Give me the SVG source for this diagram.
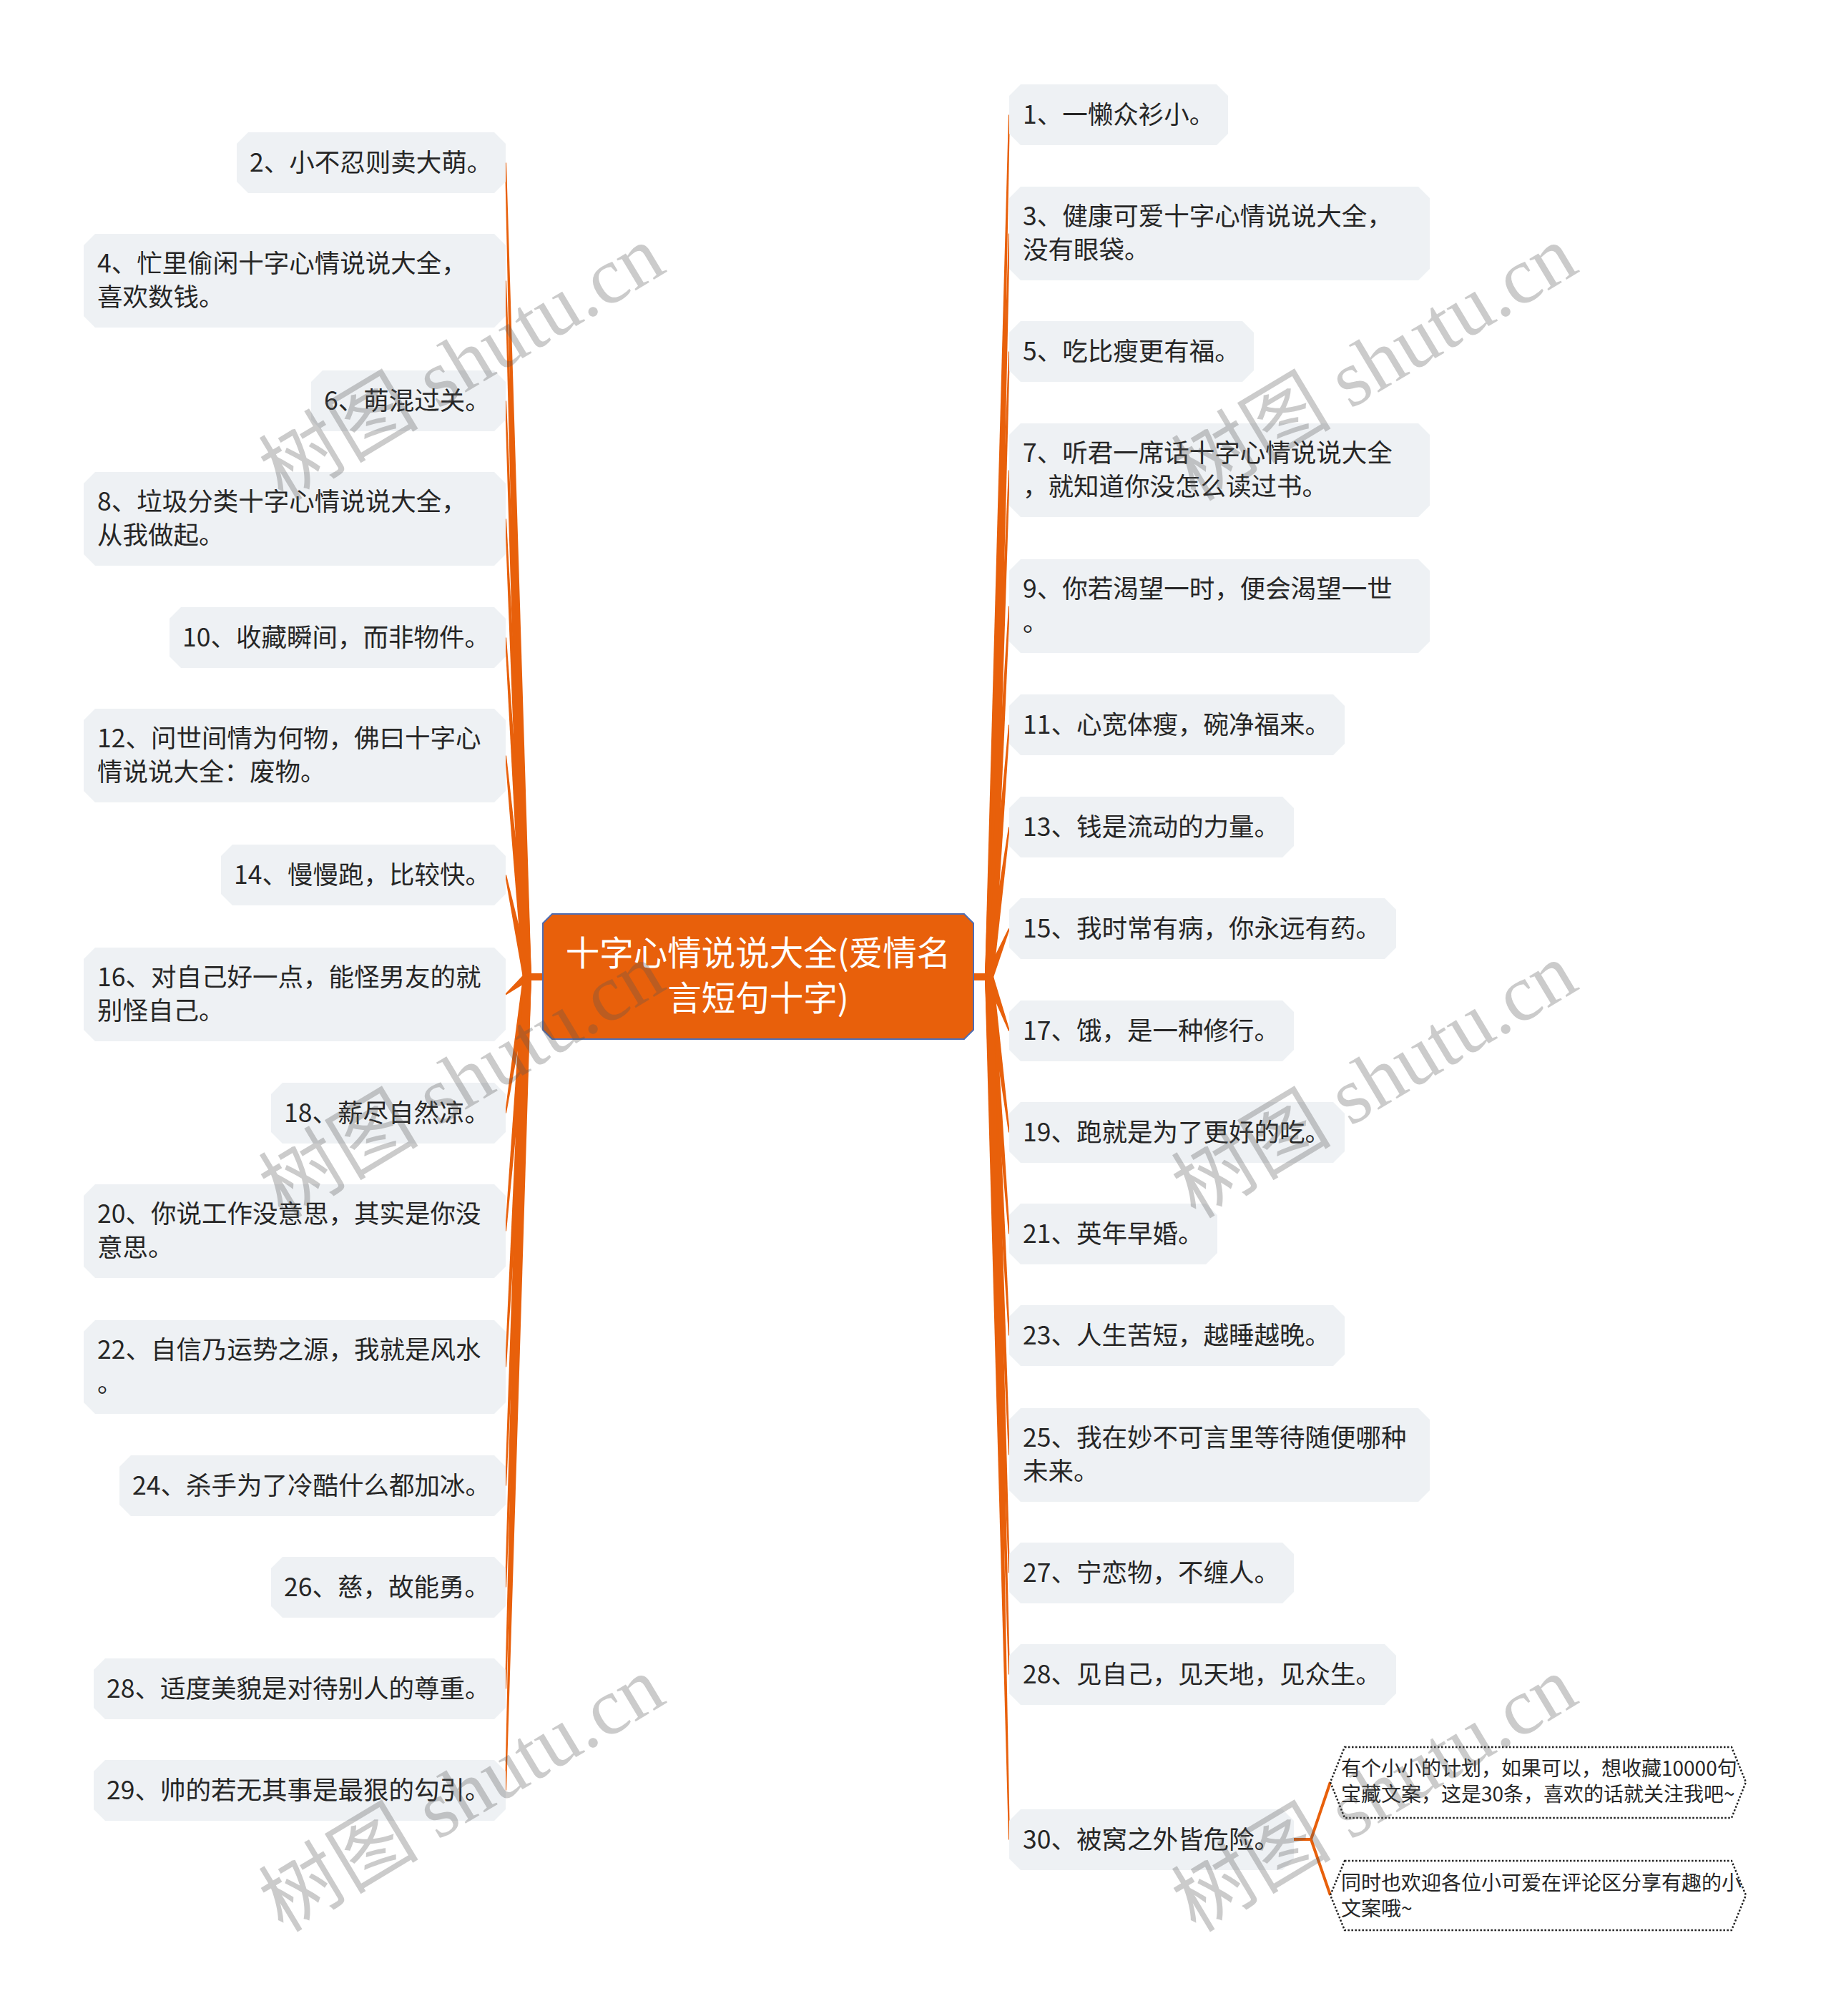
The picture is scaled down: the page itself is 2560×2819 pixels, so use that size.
<svg xmlns="http://www.w3.org/2000/svg" width="2560" height="2819" viewBox="0 0 2560 2819">
<style>
.box{fill:#EEF1F4}
.t{font-family:"Noto Sans CJK SC","Noto Sans",sans-serif;font-size:35.5px;fill:#262626}
.s{font-family:"Noto Sans CJK SC","Noto Sans",sans-serif;font-size:28px;fill:#262626}
.e{fill:#E8600B}
.sub{fill:#fff;stroke:#222;stroke-width:2.5;stroke-dasharray:2.5 2.5}
.wm{font-family:"Liberation Serif","Noto Sans CJK SC",serif;font-size:112px;fill:#555;opacity:.3}
</style>
<rect width="2560" height="2819" fill="#fff"/>
<g id="connectors">
<rect class="e" x="735" y="1361" width="26" height="10"/>
<rect class="e" x="1359" y="1361" width="26" height="10"/>
<path class="e" d="M743 1366 L708 227.5 L706 227.5 L731 1366 Z"/>
<path class="e" d="M743 1366 L708 392.5 L706 392.5 L731 1366 Z"/>
<path class="e" d="M743 1366 L708 560.5 L706 560.5 L731 1366 Z"/>
<path class="e" d="M743 1366 L708 725.5 L706 725.5 L731 1366 Z"/>
<path class="e" d="M743 1366 L708 891.5 L706 891.5 L731 1366 Z"/>
<path class="e" d="M743 1366 L708 1056.5 L706 1056.5 L731 1366 Z"/>
<path class="e" d="M742.9 1364.8 L708 1223.3 L706 1223.7 L731.1 1367.2 Z"/>
<path class="e" d="M733.2 1361.4 L706.4 1389.7 L707.6 1391.3 L740.8 1370.7 Z"/>
<path class="e" d="M743 1366 L708 1556.5 L706 1556.5 L731 1366 Z"/>
<path class="e" d="M743 1366 L708 1721.5 L706 1721.5 L731 1366 Z"/>
<path class="e" d="M743 1366 L708 1911.5 L706 1911.5 L731 1366 Z"/>
<path class="e" d="M743 1366 L708 2077.5 L706 2077.5 L731 1366 Z"/>
<path class="e" d="M743 1366 L708 2219.5 L706 2219.5 L731 1366 Z"/>
<path class="e" d="M743 1366 L708 2361.5 L706 2361.5 L731 1366 Z"/>
<path class="e" d="M743 1366 L708 2503.5 L706 2503.5 L731 1366 Z"/>
<path class="e" d="M1377 1366 L1410 160.5 L1412 160.5 L1389 1366 Z"/>
<path class="e" d="M1377 1366 L1410 326.5 L1412 326.5 L1389 1366 Z"/>
<path class="e" d="M1377 1366 L1410 491.5 L1412 491.5 L1389 1366 Z"/>
<path class="e" d="M1377 1366 L1410 657.5 L1412 657.5 L1389 1366 Z"/>
<path class="e" d="M1377 1366 L1410 847.5 L1412 847.5 L1389 1366 Z"/>
<path class="e" d="M1377 1366 L1410 1013.5 L1412 1013.5 L1389 1366 Z"/>
<path class="e" d="M1377.1 1365.2 L1410 1156.4 L1412 1156.6 L1388.9 1366.8 Z"/>
<path class="e" d="M1388.5 1368.3 L1411.9 1298.9 L1410.1 1298.1 L1377.5 1363.7 Z"/>
<path class="e" d="M1377.4 1368.1 L1410.1 1441.9 L1411.9 1441.2 L1388.6 1363.9 Z"/>
<path class="e" d="M1377 1366 L1410 1583.5 L1412 1583.5 L1389 1366 Z"/>
<path class="e" d="M1377 1366 L1410 1725.5 L1412 1725.5 L1389 1366 Z"/>
<path class="e" d="M1377 1366 L1410 1867.5 L1412 1867.5 L1389 1366 Z"/>
<path class="e" d="M1377 1366 L1410 2034.5 L1412 2034.5 L1389 1366 Z"/>
<path class="e" d="M1377 1366 L1410 2199.5 L1412 2199.5 L1389 1366 Z"/>
<path class="e" d="M1377 1366 L1410 2341.5 L1412 2341.5 L1389 1366 Z"/>
<path class="e" d="M1377 1366 L1410 2572.5 L1412 2572.5 L1389 1366 Z"/>
<path d="M1809 2572 H1833 L1860 2492 M1833 2572 L1860 2650" fill="none" stroke="#E8600B" stroke-width="4" stroke-linejoin="round"/>
</g>
<g id="root">
<path d="M772 1278 H1348 L1361 1291 V1440 L1348 1453 H772 L759 1440 V1291 Z" fill="#E8600B" stroke="#4E6DB3" stroke-width="2"/>
<text x="1060" y="1350" text-anchor="middle" font-family="Noto Sans CJK SC, Noto Sans, sans-serif" font-size="47.5" fill="#fff">十字心情说说大全(爱情名</text>
<text x="1060" y="1413" text-anchor="middle" font-family="Noto Sans CJK SC, Noto Sans, sans-serif" font-size="47.5" fill="#fff">言短句十字)</text>
</g>
<g id="n2"><path class="box" d="M347 185 H691 L707 201 V254 L691 270 H347 L331 254 V201 Z"/><text class="t" x="349" y="240">2、小不忍则卖大萌。</text></g>
<g id="n4"><path class="box" d="M133 327 H691 L707 343 V442 L691 458 H133 L117 442 V343 Z"/><text class="t" x="136" y="381">4、忙里偷闲十字心情说说大全，</text><text class="t" x="136" y="428">喜欢数钱。</text></g>
<g id="n6"><path class="box" d="M451 518 H691 L707 534 V587 L691 603 H451 L435 587 V534 Z"/><text class="t" x="453" y="573">6、萌混过关。</text></g>
<g id="n8"><path class="box" d="M133 660 H691 L707 676 V775 L691 791 H133 L117 775 V676 Z"/><text class="t" x="136" y="714">8、垃圾分类十字心情说说大全，</text><text class="t" x="136" y="761">从我做起。</text></g>
<g id="n10"><path class="box" d="M253 849 H691 L707 865 V918 L691 934 H253 L237 918 V865 Z"/><text class="t" x="255" y="904">10、收藏瞬间，而非物件。</text></g>
<g id="n12"><path class="box" d="M133 991 H691 L707 1007 V1106 L691 1122 H133 L117 1106 V1007 Z"/><text class="t" x="136" y="1045">12、问世间情为何物，佛曰十字心</text><text class="t" x="136" y="1092">情说说大全：废物。</text></g>
<g id="n14"><path class="box" d="M325 1181 H691 L707 1197 V1250 L691 1266 H325 L309 1250 V1197 Z"/><text class="t" x="327" y="1236">14、慢慢跑，比较快。</text></g>
<g id="n16"><path class="box" d="M133 1325 H691 L707 1341 V1440 L691 1456 H133 L117 1440 V1341 Z"/><text class="t" x="136" y="1379">16、对自己好一点，能怪男友的就</text><text class="t" x="136" y="1426">别怪自己。</text></g>
<g id="n18"><path class="box" d="M395 1514 H691 L707 1530 V1583 L691 1599 H395 L379 1583 V1530 Z"/><text class="t" x="397" y="1569">18、薪尽自然凉。</text></g>
<g id="n20"><path class="box" d="M133 1656 H691 L707 1672 V1771 L691 1787 H133 L117 1771 V1672 Z"/><text class="t" x="136" y="1710">20、你说工作没意思，其实是你没</text><text class="t" x="136" y="1757">意思。</text></g>
<g id="n22"><path class="box" d="M133 1846 H691 L707 1862 V1961 L691 1977 H133 L117 1961 V1862 Z"/><text class="t" x="136" y="1900">22、自信乃运势之源，我就是风水</text><text class="t" x="136" y="1947">。</text></g>
<g id="n24"><path class="box" d="M183 2035 H691 L707 2051 V2104 L691 2120 H183 L167 2104 V2051 Z"/><text class="t" x="185" y="2090">24、杀手为了冷酷什么都加冰。</text></g>
<g id="n26"><path class="box" d="M395 2177 H691 L707 2193 V2246 L691 2262 H395 L379 2246 V2193 Z"/><text class="t" x="397" y="2232">26、慈，故能勇。</text></g>
<g id="n28"><path class="box" d="M147 2319 H691 L707 2335 V2388 L691 2404 H147 L131 2388 V2335 Z"/><text class="t" x="149" y="2374">28、适度美貌是对待别人的尊重。</text></g>
<g id="n29"><path class="box" d="M147 2461 H691 L707 2477 V2530 L691 2546 H147 L131 2530 V2477 Z"/><text class="t" x="149" y="2516">29、帅的若无其事是最狠的勾引。</text></g>
<g id="n1"><path class="box" d="M1427 118 H1701 L1717 134 V187 L1701 203 H1427 L1411 187 V134 Z"/><text class="t" x="1430" y="173">1、一懒众衫小。</text></g>
<g id="n3"><path class="box" d="M1427 261 H1983 L1999 277 V376 L1983 392 H1427 L1411 376 V277 Z"/><text class="t" x="1430" y="315">3、健康可爱十字心情说说大全，</text><text class="t" x="1430" y="362">没有眼袋。</text></g>
<g id="n5"><path class="box" d="M1427 449 H1737 L1753 465 V518 L1737 534 H1427 L1411 518 V465 Z"/><text class="t" x="1430" y="504">5、吃比瘦更有福。</text></g>
<g id="n7"><path class="box" d="M1427 592 H1983 L1999 608 V707 L1983 723 H1427 L1411 707 V608 Z"/><text class="t" x="1430" y="646">7、听君一席话十字心情说说大全</text><text class="t" x="1430" y="693">，就知道你没怎么读过书。</text></g>
<g id="n9"><path class="box" d="M1427 782 H1983 L1999 798 V897 L1983 913 H1427 L1411 897 V798 Z"/><text class="t" x="1430" y="836">9、你若渴望一时，便会渴望一世</text><text class="t" x="1430" y="883">。</text></g>
<g id="n11"><path class="box" d="M1427 971 H1864 L1880 987 V1040 L1864 1056 H1427 L1411 1040 V987 Z"/><text class="t" x="1430" y="1026">11、心宽体瘦，碗净福来。</text></g>
<g id="n13"><path class="box" d="M1427 1114 H1793 L1809 1130 V1183 L1793 1199 H1427 L1411 1183 V1130 Z"/><text class="t" x="1430" y="1169">13、钱是流动的力量。</text></g>
<g id="n15"><path class="box" d="M1427 1256 H1936 L1952 1272 V1325 L1936 1341 H1427 L1411 1325 V1272 Z"/><text class="t" x="1430" y="1311">15、我时常有病，你永远有药。</text></g>
<g id="n17"><path class="box" d="M1427 1399 H1793 L1809 1415 V1468 L1793 1484 H1427 L1411 1468 V1415 Z"/><text class="t" x="1430" y="1454">17、饿，是一种修行。</text></g>
<g id="n19"><path class="box" d="M1427 1541 H1864 L1880 1557 V1610 L1864 1626 H1427 L1411 1610 V1557 Z"/><text class="t" x="1430" y="1596">19、跑就是为了更好的吃。</text></g>
<g id="n21"><path class="box" d="M1427 1683 H1686 L1702 1699 V1752 L1686 1768 H1427 L1411 1752 V1699 Z"/><text class="t" x="1430" y="1738">21、英年早婚。</text></g>
<g id="n23"><path class="box" d="M1427 1825 H1864 L1880 1841 V1894 L1864 1910 H1427 L1411 1894 V1841 Z"/><text class="t" x="1430" y="1880">23、人生苦短，越睡越晚。</text></g>
<g id="n25"><path class="box" d="M1427 1969 H1983 L1999 1985 V2084 L1983 2100 H1427 L1411 2084 V1985 Z"/><text class="t" x="1430" y="2023">25、我在妙不可言里等待随便哪种</text><text class="t" x="1430" y="2070">未来。</text></g>
<g id="n27"><path class="box" d="M1427 2157 H1793 L1809 2173 V2226 L1793 2242 H1427 L1411 2226 V2173 Z"/><text class="t" x="1430" y="2212">27、宁恋物，不缠人。</text></g>
<g id="n28r"><path class="box" d="M1427 2299 H1936 L1952 2315 V2368 L1936 2384 H1427 L1411 2368 V2315 Z"/><text class="t" x="1430" y="2354">28、见自己，见天地，见众生。</text></g>
<g id="n30"><path class="box" d="M1427 2530 H1793 L1809 2546 V2599 L1793 2615 H1427 L1411 2599 V2546 Z"/><text class="t" x="1430" y="2585">30、被窝之外皆危险。</text></g>
<g id="s1"><path class="sub" d="M1880 2443 H2421 L2441 2492 L2421 2542 H1880 L1860 2492 Z"/><text class="s" x="1875" y="2483">有个小小的计划，如果可以，想收藏10000句</text><text class="s" x="1875" y="2519">宝藏文案，这是30条，喜欢的话就关注我吧~</text></g>
<g id="s2"><path class="sub" d="M1880 2602 H2421 L2441 2650 L2421 2699 H1880 L1860 2650 Z"/><text class="s" x="1875" y="2643">同时也欢迎各位小可爱在评论区分享有趣的小</text><text class="s" x="1875" y="2679">文案哦~</text></g>
<g id="watermarks">
<text class="wm" x="645" y="546" text-anchor="middle" transform="rotate(-31 645 507)">树图 shutu.cn</text>
<text class="wm" x="645" y="1549" text-anchor="middle" transform="rotate(-31 645 1510)">树图 shutu.cn</text>
<text class="wm" x="645" y="2547" text-anchor="middle" transform="rotate(-31 645 2508)">树图 shutu.cn</text>
<text class="wm" x="1921" y="546" text-anchor="middle" transform="rotate(-31 1921 507)">树图 shutu.cn</text>
<text class="wm" x="1921" y="1549" text-anchor="middle" transform="rotate(-31 1921 1510)">树图 shutu.cn</text>
<text class="wm" x="1921" y="2547" text-anchor="middle" transform="rotate(-31 1921 2508)">树图 shutu.cn</text>
</g>
</svg>
